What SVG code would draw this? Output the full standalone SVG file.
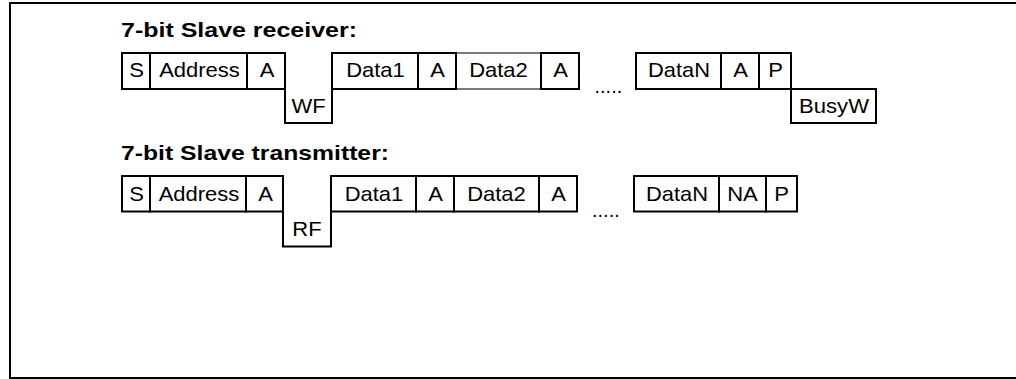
<svg xmlns="http://www.w3.org/2000/svg" width="1016" height="379" viewBox="0 0 1016 379">
<style>
.cell{fill:#fff;stroke:#000;stroke-width:2}
.thin{fill:#fff;stroke:#222;stroke-width:1.2}
.open{fill:none;stroke:#000;stroke-width:2}
.t{font-family:"Liberation Sans",Arial,sans-serif;font-size:21px;fill:#000;text-anchor:middle}
.title{font-family:"Liberation Sans",Arial,sans-serif;font-size:21px;font-weight:bold;fill:#000}
.dots{font-family:"Liberation Sans",Arial,sans-serif;font-size:20px;fill:#000}
</style>
<rect x="10" y="3" width="1020" height="375" fill="#fff" stroke="#000" stroke-width="2"/>

<g id="receiver">
<text class="title" x="121" y="36.5" textLength="236" lengthAdjust="spacingAndGlyphs">7-bit Slave receiver:</text>
<g id="r-data2"><rect class="thin" x="456" y="53" width="85" height="36"/><text class="t" x="498.5" y="77" textLength="58.7" lengthAdjust="spacingAndGlyphs">Data2</text></g>
<g id="r-s"><rect class="cell" x="122" y="53" width="28" height="36"/><text class="t" x="136.5" y="77" textLength="14.7" lengthAdjust="spacingAndGlyphs">S</text></g>
<g id="r-address"><rect class="cell" x="150" y="53" width="97" height="36"/><text class="t" x="199.5" y="77" textLength="80.7" lengthAdjust="spacingAndGlyphs">Address</text></g>
<g id="r-a1"><rect class="cell" x="247" y="53" width="38" height="36"/><text class="t" x="267" y="77" textLength="14.7" lengthAdjust="spacingAndGlyphs">A</text></g>
<g id="r-wf"><path class="open" d="M285,53 V123 H332 V53"/><text class="t" x="308.5" y="112.5" textLength="34.2" lengthAdjust="spacingAndGlyphs">WF</text></g>
<g id="r-data1"><rect class="cell" x="332" y="53" width="86" height="36"/><text class="t" x="375.5" y="77" textLength="58.7" lengthAdjust="spacingAndGlyphs">Data1</text></g>
<g id="r-a2"><rect class="cell" x="418" y="53" width="38" height="36"/><text class="t" x="437.5" y="77" textLength="14.7" lengthAdjust="spacingAndGlyphs">A</text></g>
<g id="r-a3"><rect class="cell" x="541" y="53" width="38" height="36"/><text class="t" x="560.5" y="77" textLength="14.7" lengthAdjust="spacingAndGlyphs">A</text></g>
<text class="dots" x="594.5" y="93">.....</text>
<g id="r-datan"><rect class="cell" x="636" y="53" width="85" height="36"/><text class="t" x="679" y="77" textLength="62" lengthAdjust="spacingAndGlyphs">DataN</text></g>
<g id="r-a4"><rect class="cell" x="721" y="53" width="38" height="36"/><text class="t" x="740.5" y="77" textLength="14.7" lengthAdjust="spacingAndGlyphs">A</text></g>
<g id="r-p"><rect class="cell" x="759" y="53" width="32" height="36"/><text class="t" x="775.5" y="77" textLength="14.7" lengthAdjust="spacingAndGlyphs">P</text></g>
<g id="r-busyw"><rect class="cell" x="791" y="89" width="85" height="34"/><text class="t" x="834" y="112.5" textLength="70" lengthAdjust="spacingAndGlyphs">BusyW</text></g>
</g>

<g id="transmitter">
<text class="title" x="121" y="159.5" textLength="268" lengthAdjust="spacingAndGlyphs">7-bit Slave transmitter:</text>
<g id="t-s"><rect class="cell" x="122" y="176" width="28" height="35.5"/><text class="t" x="136.5" y="200.5" textLength="14.7" lengthAdjust="spacingAndGlyphs">S</text></g>
<g id="t-address"><rect class="cell" x="150" y="176" width="96" height="35.5"/><text class="t" x="199" y="200.5" textLength="80.7" lengthAdjust="spacingAndGlyphs">Address</text></g>
<g id="t-a1"><rect class="cell" x="246" y="176" width="37" height="35.5"/><text class="t" x="265.5" y="200.5" textLength="14.7" lengthAdjust="spacingAndGlyphs">A</text></g>
<g id="t-rf"><path class="open" d="M283,176 V246.5 H331 V176"/><text class="t" x="307" y="236" textLength="29.3" lengthAdjust="spacingAndGlyphs">RF</text></g>
<g id="t-data1"><rect class="cell" x="331" y="176" width="85" height="35.5"/><text class="t" x="374" y="200.5" textLength="58.7" lengthAdjust="spacingAndGlyphs">Data1</text></g>
<g id="t-a2"><rect class="cell" x="416" y="176" width="38" height="35.5"/><text class="t" x="435.5" y="200.5" textLength="14.7" lengthAdjust="spacingAndGlyphs">A</text></g>
<g id="t-data2"><rect class="cell" x="454" y="176" width="85" height="35.5"/><text class="t" x="496.5" y="200.5" textLength="58.7" lengthAdjust="spacingAndGlyphs">Data2</text></g>
<g id="t-a3"><rect class="cell" x="539" y="176" width="38" height="35.5"/><text class="t" x="558.5" y="200.5" textLength="14.7" lengthAdjust="spacingAndGlyphs">A</text></g>
<text class="dots" x="592" y="217">.....</text>
<g id="t-datan"><rect class="cell" x="634" y="176" width="85" height="35.5"/><text class="t" x="677" y="200.5" textLength="62" lengthAdjust="spacingAndGlyphs">DataN</text></g>
<g id="t-na"><rect class="cell" x="719" y="176" width="47" height="35.5"/><text class="t" x="742.5" y="200.5" textLength="30.6" lengthAdjust="spacingAndGlyphs">NA</text></g>
<g id="t-p"><rect class="cell" x="766" y="176" width="31" height="35.5"/><text class="t" x="781.5" y="200.5" textLength="14.7" lengthAdjust="spacingAndGlyphs">P</text></g>
</g>
</svg>
